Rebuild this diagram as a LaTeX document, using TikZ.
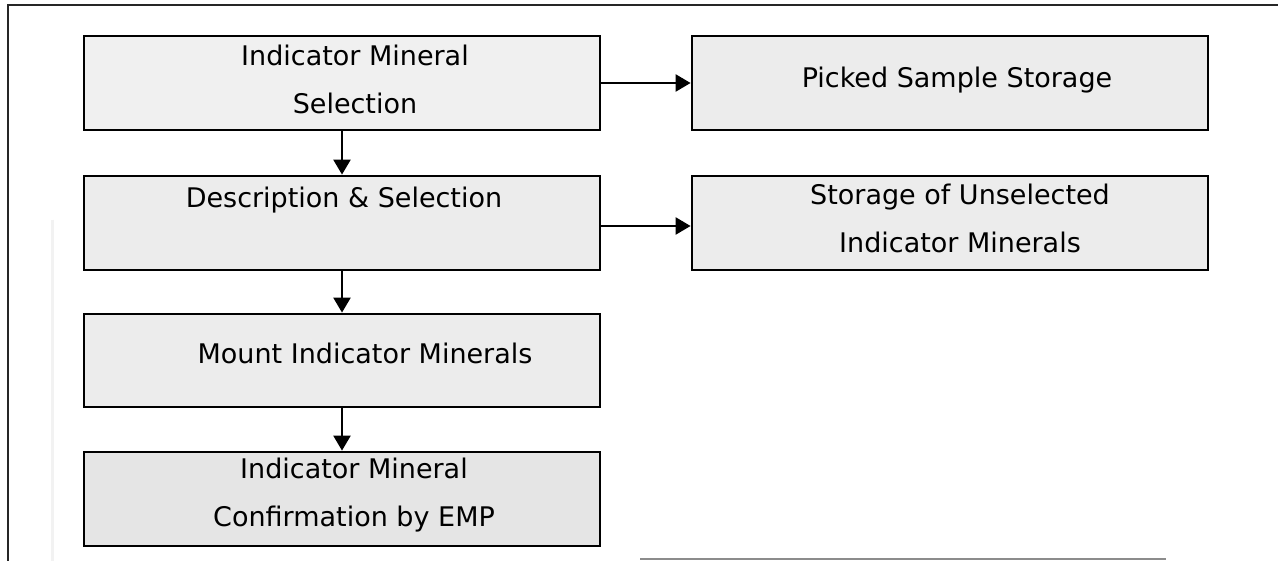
\documentclass[tikz,border=0pt]{standalone}
\usepackage{fontspec}
\setmainfont{DejaVu Sans}
\usetikzlibrary{arrows.meta,calc}

\tikzset{
  stagebox/.style={draw=black, line width=2.8pt, fill=#1, rectangle,
    minimum width=516pt, inner sep=0pt},
  stagebox/.default=gray!15,
  lbl/.style={align=center, inner sep=0pt,
    font=\fontsize{27}{48}\selectfont, text=black},
  flow/.style={line width=2.4pt, -{Triangle[length=15pt,width=17pt]}},
  frame/.style={line width=2.2pt, black!85},
}

\begin{document}
\begin{tikzpicture}[x=1pt, y=-1pt]
  \useasboundingbox (0,0) rectangle (1278,561);
  \fill[white] (0,0) rectangle (1278,561);

  % page frame
  \coordinate (tl) at (8,5);
  \coordinate (tr) at (1278,5);
  \coordinate (bl) at (8,561);
  \draw[frame] (tr) -- (tl) -- (bl);
  \coordinate (b1) at (640,559);
  \coordinate (b2) at (1166,559);
  \draw[line width=2pt, black!45] (b1) -- (b2);
  \coordinate (f1) at (52,220);
  \coordinate (f2) at (52,561);
  \draw[line width=3pt, black!5] (f1) -- (f2);

  % main column
  \node[stagebox=gray!12, minimum height=94pt] (sel)   at (342,83)    {};
  \node[stagebox,         minimum height=94pt] (desc)  at (342,223)   {};
  \node[stagebox,         minimum height=93pt] (mount) at (342,360.5) {};
  \node[stagebox=gray!20, minimum height=94pt] (emp)   at (342,499)   {};

  % storage column
  \node[stagebox, minimum height=94pt] (pick)   at (950,83)  {};
  \node[stagebox, minimum height=94pt] (unsel)  at (950,223) {};

  % labels
  \node[lbl] (sel-t)   at ([shift={(13,-4)}]sel.center)   {Indicator Mineral\\Selection};
  \node[lbl] (desc-t)  at ([shift={(2,-23)}]desc.center)  {Description \& Selection};
  \node[lbl] (mount-t) at ([shift={(23,-7)}]mount.center) {Mount Indicator Minerals};
  \node[lbl] (emp-t)   at ([shift={(12,-4)}]emp.center)   {Indicator Mineral\\Confirmation by EMP};
  \node[lbl] (pick-t)  at ([shift={(7,-3)}]pick.center)   {Picked Sample Storage};
  \node[lbl] (unsel-t) at ([shift={(10,-5)}]unsel.center) {Storage of Unselected\\Indicator Minerals};

  % connectors
  \draw[flow] (sel.south)   -- (desc.north);
  \draw[flow] (desc.south)  -- (mount.north);
  \draw[flow] (mount.south) -- (emp.north);
  \draw[flow] (sel.east)    -- (pick.west);
  \draw[flow] ([yshift=-3pt]desc.east) -- ([yshift=-3pt]unsel.west);
\end{tikzpicture}
\end{document}
